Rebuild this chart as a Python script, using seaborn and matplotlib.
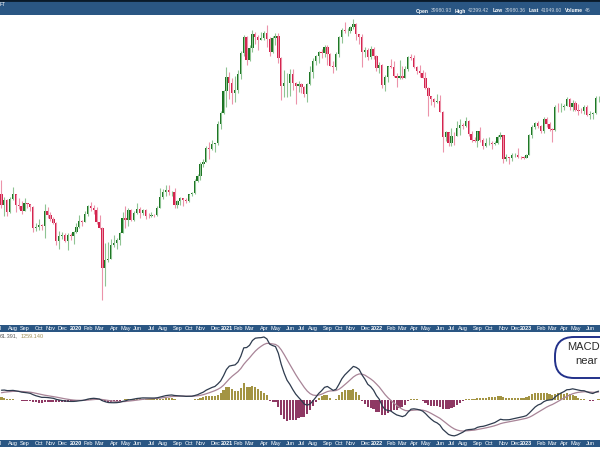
import numpy as np
import pandas as pd
import matplotlib.pyplot as plt
import seaborn as sns
from matplotlib.patches import FancyBboxPatch

sns.set_style('white')
plt.rcParams['font.family'] = ['Liberation Sans', 'DejaVu Sans']

# weekly candles, first week starting Monday 2019-07-08
first_week = '2019-07-08'

opens = [
    11470, 10200, 10750, 9530, 10820, 11380, 10230, 10140, 9630, 10390, 10310, 9990, 8050, 8150, 8290, 8220,
    9550, 9200, 8810, 8500, 7050, 7420, 7510, 7080, 7520, 7390,
    7760, 8180, 8700, 8600, 9350, 10150, 9910, 9660, 8530, 8030, 5360, 5830, 5880, 6770, 6900, 7120, 7690,
    8890, 8750, 9670, 8720, 9450, 9750, 9440, 9690, 9140, 9080, 9250, 9170, 9930, 11060, 11680, 11910, 11660,
    11680, 10260, 10680, 10940, 10770, 10670, 11380, 11500, 13030, 13740, 15480, 15960, 18410, 18180, 19160,
    19270, 23480, 26270,
    32990, 38150, 35790, 32260, 33110, 39250, 48580, 57540, 45240, 50970, 59020, 57350, 55780, 57060, 59770,
    56150, 49100, 56620, 58240, 46420, 34770, 35680, 35800, 39100, 35600, 34700, 35290, 34250, 31800, 35400,
    39900, 44600, 47100, 49300, 48900, 51800, 48300, 42700, 42200, 48200, 57400, 61500, 60900, 61300, 63300,
    65500, 59100, 57300, 49400, 50100, 46700, 50800,
    47300, 41800, 43100, 35100, 37900, 42400, 42200, 38400, 37700, 38400, 37800, 41300, 46800, 46400, 42200,
    40400, 39500, 37800, 34100, 31300, 30300, 29400, 29800, 26600, 20600, 21500, 19300, 20800, 20750, 22500,
    23300, 22900, 24300, 21100, 20000, 19800, 21800, 20000, 18800, 19300, 19400, 19200, 19250, 20600, 20900,
    16300, 16700, 16500, 17100, 17150, 16800, 16750,
    16600, 17100, 20900, 22700, 23700, 22900, 21800, 24600, 23500, 22400, 22100, 28000, 27900, 28000, 28300,
    30300, 27800, 29200, 27000, 26900, 26800, 28000, 25800, 25900, 26300, 30500,
]
highs = [
    13200, 11100, 10900, 11080, 12330, 11450, 10950, 10620, 10930, 10470, 10360, 10060, 8520, 8820, 8400, 10350,
    9950, 9500, 8980, 8600, 7850, 7750, 7620, 7690, 7650, 7800,
    8450, 9200, 8780, 9600, 10180, 10500, 10200, 9960, 9170, 8180, 6900, 6950, 7200, 7470, 7290, 7750, 9480,
    10070, 9900, 9840, 9600, 10430, 9990, 9800, 9760, 9380, 9470, 9300, 10100, 12100, 12080, 12480, 12480,
    11800, 12100, 10800, 11100, 10990, 10950, 11450, 11720, 13350, 14100, 15950, 16400, 18800, 19450, 19900,
    19400, 24300, 26800, 33300,
    41950, 40100, 37800, 38500, 40900, 49700, 58350, 58000, 52600, 61700, 60600, 58400, 60200, 61300, 64850,
    57500, 58000, 59600, 59500, 46600, 40800, 39500, 41300, 41300, 36000, 36600, 35900, 34700, 35600, 42600,
    46200, 47900, 49500, 50500, 52900, 52900, 48900, 45000, 49200, 57800, 62900, 67000, 63200, 64300, 69000,
    66300, 59300, 59200, 51900, 51000, 52100, 52000,
    47600, 44500, 43500, 38900, 42600, 45800, 44700, 39800, 45400, 42600, 42400, 47200, 48200, 47500, 42400,
    42900, 40800, 40000, 34300, 31400, 30600, 31900, 31700, 26800, 21900, 21700, 22500, 21600, 24300, 24700,
    23700, 25200, 24500, 21900, 20600, 21900, 22800, 20300, 20400, 20500, 19700, 19700, 21000, 21500, 21000,
    17200, 16800, 17400, 17400, 18400, 16950, 16950,
    17200, 21200, 23300, 23900, 24200, 23200, 25200, 25200, 23900, 22600, 28400, 29000, 29200, 28800, 31000,
    30500, 30000, 29800, 28800, 27700, 28400, 28400, 26800, 26500, 31400, 31400,
]
lows = [
    9900, 9100, 9110, 9380, 10780, 9460, 9750, 9330, 9600, 9900, 9560, 7710, 7800, 7900, 7870, 7300,
    8900, 8700, 8370, 6800, 6520, 7200, 7000, 6450, 7150, 6850,
    7630, 8100, 8250, 8540, 9150, 9600, 9300, 8420, 8000, 3850, 4450, 5700, 5860, 6620, 6480, 6800, 7650,
    8100, 8200, 8650, 8630, 9270, 8900, 9200, 8850, 8900, 9000, 9050, 9130, 9900, 10900, 11150, 11350,
    11140, 9880, 9880, 10200, 10150, 10370, 10550, 11150, 11400, 12980, 13200, 15100, 15800, 16300, 18000,
    17600, 19000, 22400, 26100,
    28000, 30400, 28850, 29300, 32300, 37400, 47000, 43000, 44900, 49300, 53300, 50400, 55400, 55500, 51500,
    47000, 48800, 52900, 43800, 30000, 31100, 31000, 31200, 33300, 28800, 32700, 32100, 31100, 29300, 35200,
    37600, 42800, 43900, 46400, 46500, 42900, 42400, 39600, 40800, 46900, 53900, 59800, 57800, 59500, 62300,
    55600, 53300, 42000, 46800, 45500, 45600, 45700,
    40500, 39600, 34000, 32900, 36200, 41700, 38000, 34300, 37100, 37200, 37600, 40500, 45100, 41900, 39200,
    38200, 37600, 33700, 25400, 28600, 28000, 29000, 26500, 17600, 19700, 18700, 18800, 18900, 20700, 21000,
    22400, 22700, 20800, 19600, 19600, 18500, 19500, 18200, 18500, 19000, 18200, 18900, 19200, 20100, 15700,
    16000, 15500, 16000, 16800, 16500, 16400, 16300,
    16500, 17000, 20400, 22300, 22500, 21400, 21400, 22800, 21900, 19600, 21900, 26600, 26600, 27200, 28100,
    27100, 26900, 26700, 25800, 26200, 26000, 25400, 24800, 24800, 26100, 29500,
]
closes = [
    10200, 10750, 9530, 10820, 11380, 10230, 10140, 9630, 10390, 10310, 9990, 8050, 8150, 8290, 8220, 9550,
    9200, 8810, 8500, 7050, 7420, 7510, 7080, 7520, 7390, 7760,
    8180, 8700, 8600, 9350, 10150, 9910, 9660, 8530, 8030, 5360, 5830, 5880, 6770, 6900, 7120, 7690, 8890,
    8750, 9670, 8720, 9450, 9750, 9440, 9690, 9140, 9080, 9250, 9170, 9930, 11060, 11680, 11910, 11660,
    11680, 10260, 10680, 10940, 10770, 10670, 11380, 11500, 13030, 13740, 15480, 15960, 18410, 18180, 19160,
    19270, 23480, 26270, 32990,
    38150, 35790, 32260, 33110, 39250, 48580, 57540, 45240, 50970, 59020, 57350, 55780, 57060, 59770, 56150,
    49100, 56620, 58240, 46420, 34770, 35680, 35800, 39100, 35600, 34700, 35290, 34250, 31800, 35400, 39900,
    44600, 47100, 49300, 48900, 51800, 48300, 42700, 42200, 48200, 57400, 61500, 60900, 61300, 63300, 65500,
    59100, 57300, 49400, 50100, 46700, 50800, 47300,
    41800, 43100, 35100, 37900, 42400, 42200, 38400, 37700, 38400, 37800, 41300, 46800, 46400, 42200, 40400,
    39500, 37800, 34100, 31300, 30300, 29400, 29800, 26600, 20600, 21500, 19300, 20800, 20750, 22500, 23300,
    22900, 24300, 21100, 20000, 19800, 21800, 20000, 18800, 19300, 19400, 19200, 19250, 20600, 20900, 16300,
    16700, 16500, 17100, 17150, 16800, 16750, 16600,
    17100, 20900, 22700, 23700, 22900, 21800, 24600, 23500, 22400, 22100, 28000, 27900, 28000, 28300, 30300,
    27800, 29200, 27000, 26900, 26800, 28000, 25800, 25900, 26300, 30500, 30600,
]
# closes of the weeks before the visible window (Jan-Jul 2019), only feed the MACD
warmup_closes = [4030, 3510, 3530, 3540, 3410, 3620, 3670, 3820, 3820, 3920, 4010, 3990, 4100, 5170,
                 5150, 5310, 5260, 5770, 6990, 8190, 8050, 8740, 7650, 8980, 10850, 10800, 11470]

header_labels = ['Open', 'High', 'Low', 'Last', 'Volume']
header_values = ['39980.93', '42399.42', '39980.36', '41949.60', '46']
symbol_text = 'FT'
macd_readout = ['61.391,', '1259.140']
callout_lines = ['MACD', 'near']

n = len(closes)
assert len(opens) == n and len(highs) == n and len(lows) == n
weeks = pd.date_range(first_week, periods=n, freq='W-MON')
idx = np.arange(n)
o = np.array(opens, float)
h = np.array(highs, float)
l = np.array(lows, float)
c = np.array(closes, float)
up = c >= o

# MACD 12/26/9
full = pd.Series(warmup_closes + closes, dtype=float)
macd_full = full.ewm(span=12, adjust=False).mean() - full.ewm(span=26, adjust=False).mean()
sig_full = macd_full.ewm(span=9, adjust=False).mean()
df = pd.DataFrame({'i': idx,
                   'macd': macd_full.iloc[-n:].to_numpy(),
                   'signal': sig_full.iloc[-n:].to_numpy()})
df['hist'] = df['macd'] - df['signal']

# month ticks: first week of each month, year shown for January
ticks = [(-1, 'Jul', False)]
for i in range(1, n):
    if weeks[i].month != weeks[i - 1].month:
        if weeks[i].month == 1:
            ticks.append((i, str(weeks[i].year), True))
        else:
            ticks.append((i, weeks[i].strftime('%b'), False))

BAR = '#2a5683'
UP = '#18721f'
DOWN = '#d21f4a'

fig = plt.figure(figsize=(6, 4.5), dpi=100)
H = 450


def band(top, bottom):
    return [0, 1 - bottom / H, 1, (bottom - top) / H]


def clean(ax):
    ax.set_xticks([])
    ax.set_yticks([])
    for s in ax.spines.values():
        s.set_visible(False)


ax_head = fig.add_axes(band(0, 15))
ax_price = fig.add_axes(band(15, 325))
ax_d1 = fig.add_axes(band(325, 332))
ax_macd = fig.add_axes(band(332, 440))
ax_d2 = fig.add_axes(band(440, 447))

xlim = (-0.5, n - 0.5)

# header
ax_head.set_facecolor(BAR)
clean(ax_head)
ax_head.axhline(1, color='#0a1a2a', lw=2)

# price candles
ax_price.set_yscale('log')
ax_price.vlines(idx[up], l[up], h[up], color='#8fc493', lw=0.8)
ax_price.vlines(idx[~up], l[~up], h[~up], color='#ec93aa', lw=0.8)
ax_price.bar(idx, np.abs(c - o), bottom=np.minimum(o, c), width=0.8,
             color=np.where(up, UP, DOWN), linewidth=0)
ax_price.set_xlim(xlim)
ax_price.set_ylim(2975, 71900)
ax_price.minorticks_off()
clean(ax_price)

# date bars
for axd in (ax_d1, ax_d2):
    axd.set_facecolor(BAR)
    axd.set_xlim(xlim)
    axd.set_ylim(0, 1)
    clean(axd)
    for i, lab, is_year in ticks:
        axd.text(i, 0.45, lab, ha='center', va='center', color='white', fontsize=4,
                 fontweight='bold' if is_year else 'normal', clip_on=True)

# MACD panel
pos = df['hist'] >= 0
ax_macd.bar(df['i'], df['hist'], width=0.75, color=np.where(pos, '#a39443', '#8e3863'), linewidth=0)
sns.lineplot(data=df, x='i', y='signal', ax=ax_macd, color='#a88497', lw=0.9)
sns.lineplot(data=df, x='i', y='macd', ax=ax_macd, color='#2e3b4e', lw=0.9)
m = df['macd'].max()
ax_macd.set_ylim(-0.635 * m, 1.079 * m)
ax_macd.set_xlim(xlim)
ax_macd.set_xlabel('')
ax_macd.set_ylabel('')
clean(ax_macd)

# overlay in pixel coordinates for the texts and callout
ov = fig.add_axes([0, 0, 1, 1])
ov.set_xlim(0, 600)
ov.set_ylim(450, 0)
ov.set_axis_off()

ov.text(0, 5, symbol_text, color='white', fontsize=3.5, va='center', ha='left')
r = fig.canvas.get_renderer()
x = 416
for lab, val in zip(header_labels, header_values):
    t = ov.text(x, 11, lab, color='white', fontsize=3.6, fontweight='bold', va='center', ha='left')
    x = t.get_window_extent(r).x1 + 2
    t = ov.text(x, 11, val, color='#c9d3de', fontsize=3.6, va='center', ha='left')
    x = t.get_window_extent(r).x1 + 3

t = ov.text(0, 336, macd_readout[0], color='#5a5a5a', fontsize=4, va='center', ha='left')
x = t.get_window_extent(r).x1 + 2
ov.text(x, 336, macd_readout[1], color='#a0905a', fontsize=4, va='center', ha='left')

box = FancyBboxPatch((555, 337), 100, 41, boxstyle='round,pad=0,rounding_size=19',
                     facecolor='white', edgecolor='#22318a', lw=1.4, clip_on=False)
ov.add_patch(box)
ov.text(567, 347, callout_lines[0], fontsize=8, color='#2a2a2a', va='center', ha='left')
ov.text(575, 361, callout_lines[1], fontsize=8, color='#2a2a2a', va='center', ha='left')

fig.savefig('out.png', dpi=100)
